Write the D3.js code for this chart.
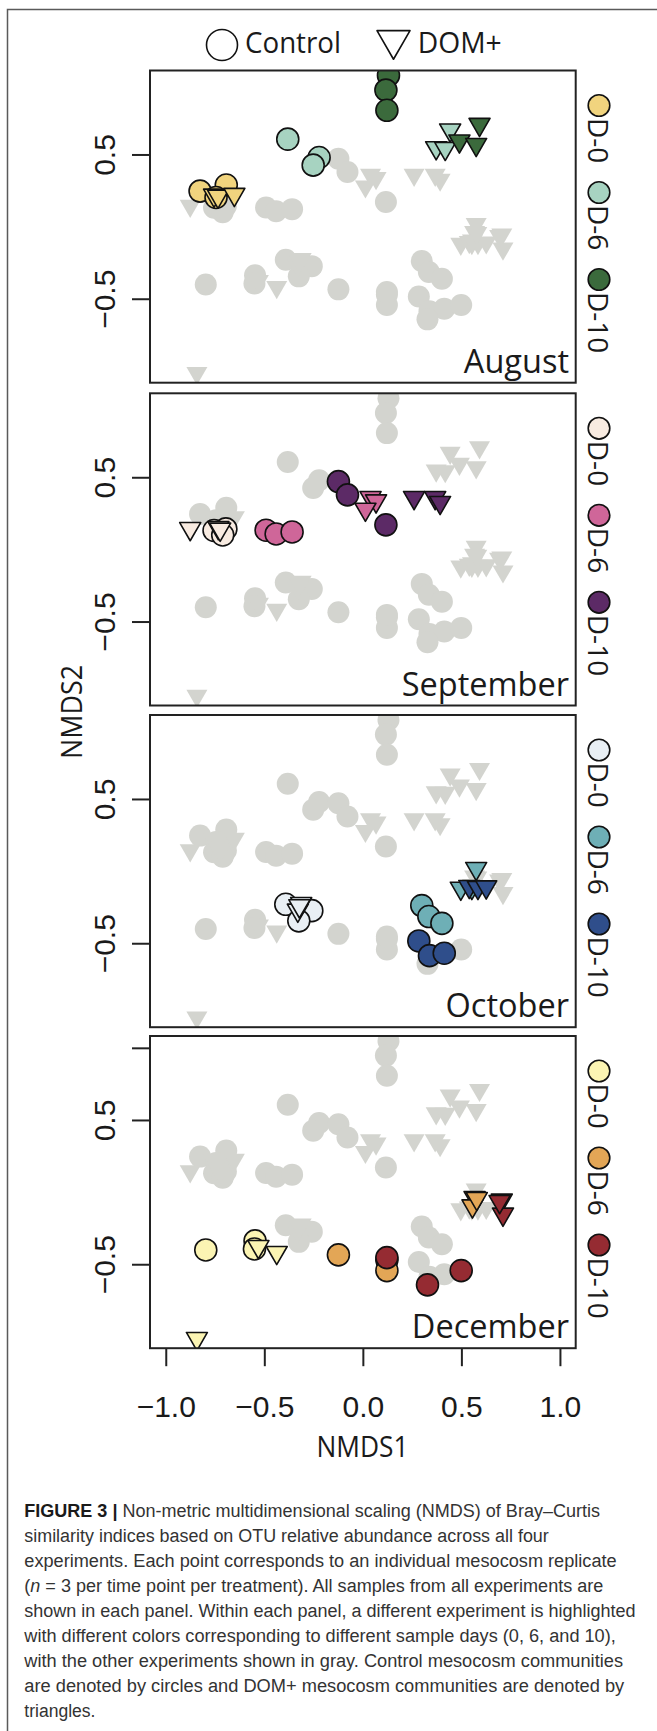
<!DOCTYPE html>
<html>
<head>
<meta charset="utf-8">
<script src="https://cdn.jsdelivr.net/npm/d3@7"></script>
<style>
  html, body { margin: 0; padding: 0; background: #ffffff; }
  svg { display: block; }
</style>
</head>
<body>
<svg id="fig" width="657" height="1731"></svg>
<script>
// Experiments, sampling days and treatments
const months = ["August", "September", "October", "December"];
const days = ["D-0", "D-6", "D-10"];
const treatments = ["Control", "DOM+"];

// NMDS1 / NMDS2 scores: three replicates for D-0, then D-6, then D-10
const augustControl = [[-0.826, 0.246], [-0.693, 0.288], [-0.745, 0.202],
                       [-0.381, 0.606], [-0.222, 0.479], [-0.252, 0.426],
                       [0.130, 1.048], [0.117, 0.946], [0.122, 0.806]];
const augustDOM = [[-0.755, 0.218], [-0.735, 0.211], [-0.652, 0.223],
                   [0.443, 0.669], [0.372, 0.546], [0.418, 0.542],
                   [0.592, 0.708], [0.490, 0.593], [0.575, 0.569]];
const septemberControl = [[-0.755, 0.131], [-0.695, 0.142], [-0.711, 0.100],
                          [-0.491, 0.133], [-0.440, 0.107], [-0.359, 0.121],
                          [-0.124, 0.470], [-0.078, 0.378], [0.117, 0.170]];
const septemberDOM = [[-0.876, 0.144], [-0.733, 0.151], [-0.724, 0.140],
                      [0.039, 0.359], [0.067, 0.336], [0.013, 0.278],
                      [0.260, 0.359], [0.367, 0.359], [0.392, 0.325]];
const octoberControl = [[-0.391, -0.230], [-0.259, -0.274], [-0.325, -0.345],
                        [0.299, -0.239], [0.335, -0.315], [0.401, -0.362],
                        [0.284, -0.484], [0.338, -0.586], [0.413, -0.569]];
const octoberDOM = [[-0.313, -0.225], [-0.330, -0.271], [-0.322, -0.241],
                    [0.575, 0.018], [0.497, -0.119], [0.553, -0.114],
                    [0.540, -0.107], [0.584, -0.114], [0.626, -0.110]];
const decemberControl = [[-0.797, -0.401], [-0.547, -0.338], [-0.550, -0.394],
                         [-0.124, -0.435], [0.122, -0.470], [0.122, -0.544],
                         [0.122, -0.454], [0.328, -0.643], [0.499, -0.544]];
const decemberDOM = [[-0.530, -0.378], [-0.437, -0.419], [-0.842, -1.015],
                     [0.567, -0.038], [0.556, -0.096], [0.578, -0.045],
                     [0.705, -0.056], [0.711, -0.153], [0.694, -0.066]];

// Day colours for each experiment
const augustColors = ["#f1d47e", "#a7d3c1", "#3b6a3c"];
const septemberColors = ["#f8ebe1", "#cf6699", "#5c2a66"];
const octoberColors = ["#e9eff4", "#6eafb6", "#2f4e8b"];
const decemberColors = ["#fbf4b3", "#e3a656", "#952b32"];

// Axis ticks
const xTicks = [-1, -0.5, 0, 0.5, 1];
const yTicks = [-0.5, 0.5];
const yTicksLast = [-0.5, 0.5, 1];

// Caption
const captionLines = [
  "Non-metric multidimensional scaling (NMDS) of Bray\u2013Curtis",
  "similarity indices based on OTU relative abundance across all four",
  "experiments. Each point corresponds to an individual mesocosm replicate",
  " = 3 per time point per treatment). All samples from all experiments are",
  "shown in each panel. Within each panel, a different experiment is highlighted",
  "with different colors corresponding to different sample days (0, 6, and 10),",
  "with the other experiments shown in gray. Control mesocosm communities",
  "are denoted by circles and DOM+ mesocosm communities are denoted by",
  "triangles."
];

// ---------- assemble a long table ----------
const scoreSets = {
  August: [augustControl, augustDOM],
  September: [septemberControl, septemberDOM],
  October: [octoberControl, octoberDOM],
  December: [decemberControl, decemberDOM]
};
const colorSets = {
  August: augustColors, September: septemberColors,
  October: octoberColors, December: decemberColors
};
const samples = [];
months.forEach(m => {
  treatments.forEach((t, ti) => {
    scoreSets[m][ti].forEach((p, i) => {
      samples.push({ month: m, treatment: t, day: Math.floor(i / 3), x: p[0], y: p[1] });
    });
  });
});

// ---------- layout ----------
const svg = d3.select("#fig");
const W = 657, H = 1731;
const plotLeft = 150, plotRight = 575.7;
const panelTops = [70.5, 393.3, 715, 1036];
const panelH = 312.2;
const gray = "#d3d4cf";
const ink = "#1a1a1a";
const humanist = "'Open Sans', 'Noto Sans', sans-serif";
const grotesk = "'Liberation Sans', Arial, sans-serif";

svg.append("rect").attr("width", W).attr("height", H).attr("fill", "#ffffff");

// outer figure frame
svg.append("rect")
  .attr("x", 7.5).attr("y", 9.5)
  .attr("width", 700).attr("height", 1800)
  .attr("fill", "none").attr("stroke", "#5a5a5a").attr("stroke-width", 1.5);

const x = d3.scaleLinear().domain([-1.08, 1.08]).range([plotLeft, plotRight]);

const triSmall = d3.symbol().type(d3.symbolTriangle).size(191);
const triLegend = d3.symbol().type(d3.symbolTriangle).size(472);

months.forEach((month, pi) => {
  const top = panelTops[pi];
  const bottom = top + panelH;
  const y = d3.scaleLinear().domain([-1.082, 1.082]).range([bottom, top]);
  const g = svg.append("g").attr("class", "panel");

  const clipId = "clip-" + month;
  svg.append("clipPath").attr("id", clipId)
    .append("rect")
    .attr("x", plotLeft).attr("y", top)
    .attr("width", plotRight - plotLeft).attr("height", panelH);

  const pts = g.append("g").attr("clip-path", `url(#${clipId})`);

  // other experiments in gray
  const others = samples.filter(d => d.month !== month);
  pts.selectAll("circle.bg")
    .data(others.filter(d => d.treatment === "Control"))
    .join("circle")
    .attr("class", "bg")
    .attr("cx", d => x(d.x)).attr("cy", d => y(d.y))
    .attr("r", 11).attr("fill", gray);
  pts.selectAll("path.bg")
    .data(others.filter(d => d.treatment === "DOM+"))
    .join("path")
    .attr("class", "bg")
    .attr("d", triSmall)
    .attr("transform", d => `translate(${x(d.x)},${y(d.y)}) rotate(180)`)
    .attr("fill", gray);

  // highlighted experiment
  const cols = colorSets[month];
  const own = samples.filter(d => d.month === month);
  pts.selectAll("circle.hl")
    .data(own.filter(d => d.treatment === "Control"))
    .join("circle")
    .attr("class", "hl")
    .attr("cx", d => x(d.x)).attr("cy", d => y(d.y))
    .attr("r", 11)
    .attr("fill", d => cols[d.day])
    .attr("stroke", "#111").attr("stroke-width", 1.6);
  pts.selectAll("path.hl")
    .data(own.filter(d => d.treatment === "DOM+"))
    .join("path")
    .attr("class", "hl")
    .attr("d", triSmall)
    .attr("transform", d => `translate(${x(d.x)},${y(d.y)}) rotate(180)`)
    .attr("fill", d => cols[d.day])
    .attr("stroke", "#111").attr("stroke-width", 1.6)
    .attr("stroke-linejoin", "round");

  // panel box
  g.append("rect")
    .attr("x", plotLeft).attr("y", top)
    .attr("width", plotRight - plotLeft).attr("height", panelH)
    .attr("fill", "none").attr("stroke", "#222").attr("stroke-width", 2);

  // left axis
  const isLast = pi === months.length - 1;
  const yAxis = d3.axisLeft(y)
    .tickValues(isLast ? yTicksLast : yTicks)
    .tickSize(18)
    .tickFormat(d => (d === 1 ? "" : d3.format(".1f")(d)));
  const ya = g.append("g").attr("transform", `translate(${plotLeft},0)`).call(yAxis);
  ya.select(".domain").remove();
  ya.selectAll(".tick line").attr("stroke", "#222").attr("stroke-width", 2);
  ya.selectAll(".tick text")
    .attr("x", null).attr("dy", null)
    .attr("transform", "translate(-35,0) rotate(-90)")
    .attr("text-anchor", "middle")
    .attr("font-family", grotesk).attr("font-size", 30).attr("fill", ink);

  // month label
  g.append("text")
    .attr("x", 569).attr("y", bottom - 10)
    .attr("text-anchor", "end")
    .attr("font-family", humanist).attr("font-size", 32.5).attr("fill", ink)
    .text(month);

  // day legend on the right, rotated
  const lg = g.append("g");
  days.forEach((dl, di) => {
    const cy = top + 35 + di * 87;
    lg.append("circle")
      .attr("cx", 599).attr("cy", cy).attr("r", 10.8)
      .attr("fill", cols[di]).attr("stroke", "#111").attr("stroke-width", 1.6);
    lg.append("text")
      .attr("transform", `translate(588,${cy + 12.5}) rotate(90)`)
      .attr("font-family", humanist).attr("font-size", 28).attr("fill", ink)
      .text(dl);
  });

  // bottom axis on the last panel
  if (isLast) {
    const xAxis = d3.axisBottom(x).tickValues(xTicks).tickSize(18)
      .tickFormat(d3.format(".1f"));
    const xa = g.append("g").attr("transform", `translate(0,${bottom})`).call(xAxis);
    xa.select(".domain").remove();
    xa.selectAll(".tick line").attr("stroke", "#222").attr("stroke-width", 2);
    xa.selectAll(".tick text")
      .attr("y", 68.4).attr("dy", null)
      .attr("font-family", grotesk).attr("font-size", 30).attr("fill", ink);
  }
});

// axis titles
svg.append("text")
  .attr("x", 362.5).attr("y", 1456.7)
  .attr("text-anchor", "middle")
  .attr("font-family", humanist).attr("font-size", 30).attr("fill", ink)
  .attr("textLength", 92).attr("lengthAdjust", "spacingAndGlyphs")
  .text("NMDS1");
svg.append("text")
  .attr("transform", "translate(82,712) rotate(-90)")
  .attr("text-anchor", "middle")
  .attr("font-family", humanist).attr("font-size", 30).attr("fill", ink)
  .attr("textLength", 94).attr("lengthAdjust", "spacingAndGlyphs")
  .text("NMDS2");

// treatment legend at the top
svg.append("circle")
  .attr("cx", 222).attr("cy", 45).attr("r", 15.5)
  .attr("fill", "#ffffff").attr("stroke", "#111").attr("stroke-width", 1.6);
svg.append("text")
  .attr("x", 245).attr("y", 52.7)
  .attr("font-family", humanist).attr("font-size", 30).attr("fill", ink)
  .attr("textLength", 96).attr("lengthAdjust", "spacingAndGlyphs")
  .text(treatments[0]);
svg.append("path")
  .attr("d", triLegend)
  .attr("transform", "translate(393.5,40.2) rotate(180)")
  .attr("fill", "#ffffff").attr("stroke", "#111").attr("stroke-width", 1.6)
  .attr("stroke-linejoin", "round");
svg.append("text")
  .attr("x", 417.7).attr("y", 52.7)
  .attr("font-family", humanist).attr("font-size", 30).attr("fill", ink)
  .attr("textLength", 84).attr("lengthAdjust", "spacingAndGlyphs")
  .text(treatments[1]);

// caption
const capLeft = 24.3;
const capEnds = [600, 548.8, 616.7, 603.3, 635.5, 615.8, 623, 624.2, 95.5];
const capFont = "'Liberation Sans Narrow', 'Liberation Sans', Arial, sans-serif";
captionLines.forEach((line, i) => {
  const t = svg.append("text")
    .attr("x", capLeft).attr("y", 1517.3 + i * 25)
    .attr("font-family", capFont).attr("font-size", 18).attr("fill", "#333")
    .attr("textLength", capEnds[i] - capLeft).attr("lengthAdjust", "spacingAndGlyphs");
  if (i === 0) {
    t.append("tspan").attr("font-weight", "bold").attr("fill", "#1a1a1a").text("FIGURE 3 | ");
    t.append("tspan").text(line);
  } else if (i === 3) {
    t.append("tspan").text("(");
    t.append("tspan").attr("font-style", "italic").text("n");
    t.append("tspan").text(line);
  } else {
    t.text(line);
  }
});
</script>
</body>
</html>
